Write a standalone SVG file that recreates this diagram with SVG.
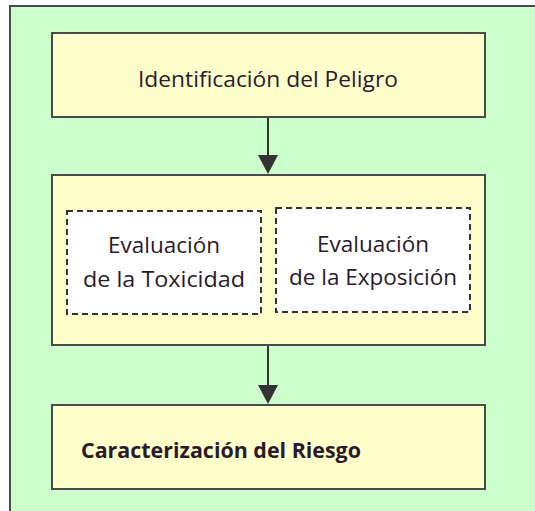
<svg xmlns="http://www.w3.org/2000/svg" width="535" height="511" viewBox="0 0 535 511">
<defs>
<style>
.box{fill:#ffffcc;stroke:#4a4a4a;stroke-width:2}
.dash{fill:#ffffff;stroke:#333;stroke-width:2;stroke-dasharray:6 4}
.t{font-family:"Open Sans","DejaVu Sans",sans-serif;font-size:21px;fill:#2a1a2a}
.conn{stroke:#333;stroke-width:2;fill:none}
</style>
</defs>
<rect x="0" y="0" width="535" height="511" fill="#ffffff"/>
<rect x="10" y="6" width="525" height="505" fill="#ccffcc"/>
<path d="M10,511 L10,6 L535,6" fill="none" stroke="#4a4a4a" stroke-width="2"/>
<g id="connectors">
<line class="conn" x1="268" y1="117" x2="268" y2="156"/>
<path d="M258,155 L278,155 L268,174 Z" fill="#333"/>
<line class="conn" x1="268" y1="345" x2="268" y2="386"/>
<path d="M258,385 L278,385 L268,404 Z" fill="#333"/>
</g>
<g id="hazard">
<rect class="box" x="52" y="33" width="433" height="84"/>
<text class="t" x="268" y="87" text-anchor="middle" textLength="260" lengthAdjust="spacingAndGlyphs">Identificación del Peligro</text>
</g>
<g id="assessment">
<rect class="box" x="52" y="175" width="433" height="170"/>
</g>
<g id="toxicity">
<rect class="dash" x="67" y="211" width="194" height="103"/>
<text class="t" x="164" y="253" text-anchor="middle" textLength="112" lengthAdjust="spacingAndGlyphs">Evaluación</text>
<text class="t" x="164" y="287" text-anchor="middle" textLength="162" lengthAdjust="spacingAndGlyphs">de la Toxicidad</text>
</g>
<g id="exposure">
<rect class="dash" x="276" y="208" width="194" height="104"/>
<text class="t" x="373" y="252" text-anchor="middle" textLength="112" lengthAdjust="spacingAndGlyphs">Evaluación</text>
<text class="t" x="373" y="285" text-anchor="middle" textLength="168" lengthAdjust="spacingAndGlyphs">de la Exposición</text>
</g>
<g id="risk">
<rect class="box" x="52" y="405" width="433" height="84"/>
<text class="t" x="81" y="458" font-weight="bold" textLength="280" lengthAdjust="spacingAndGlyphs">Caracterización del Riesgo</text>
</g>
</svg>
